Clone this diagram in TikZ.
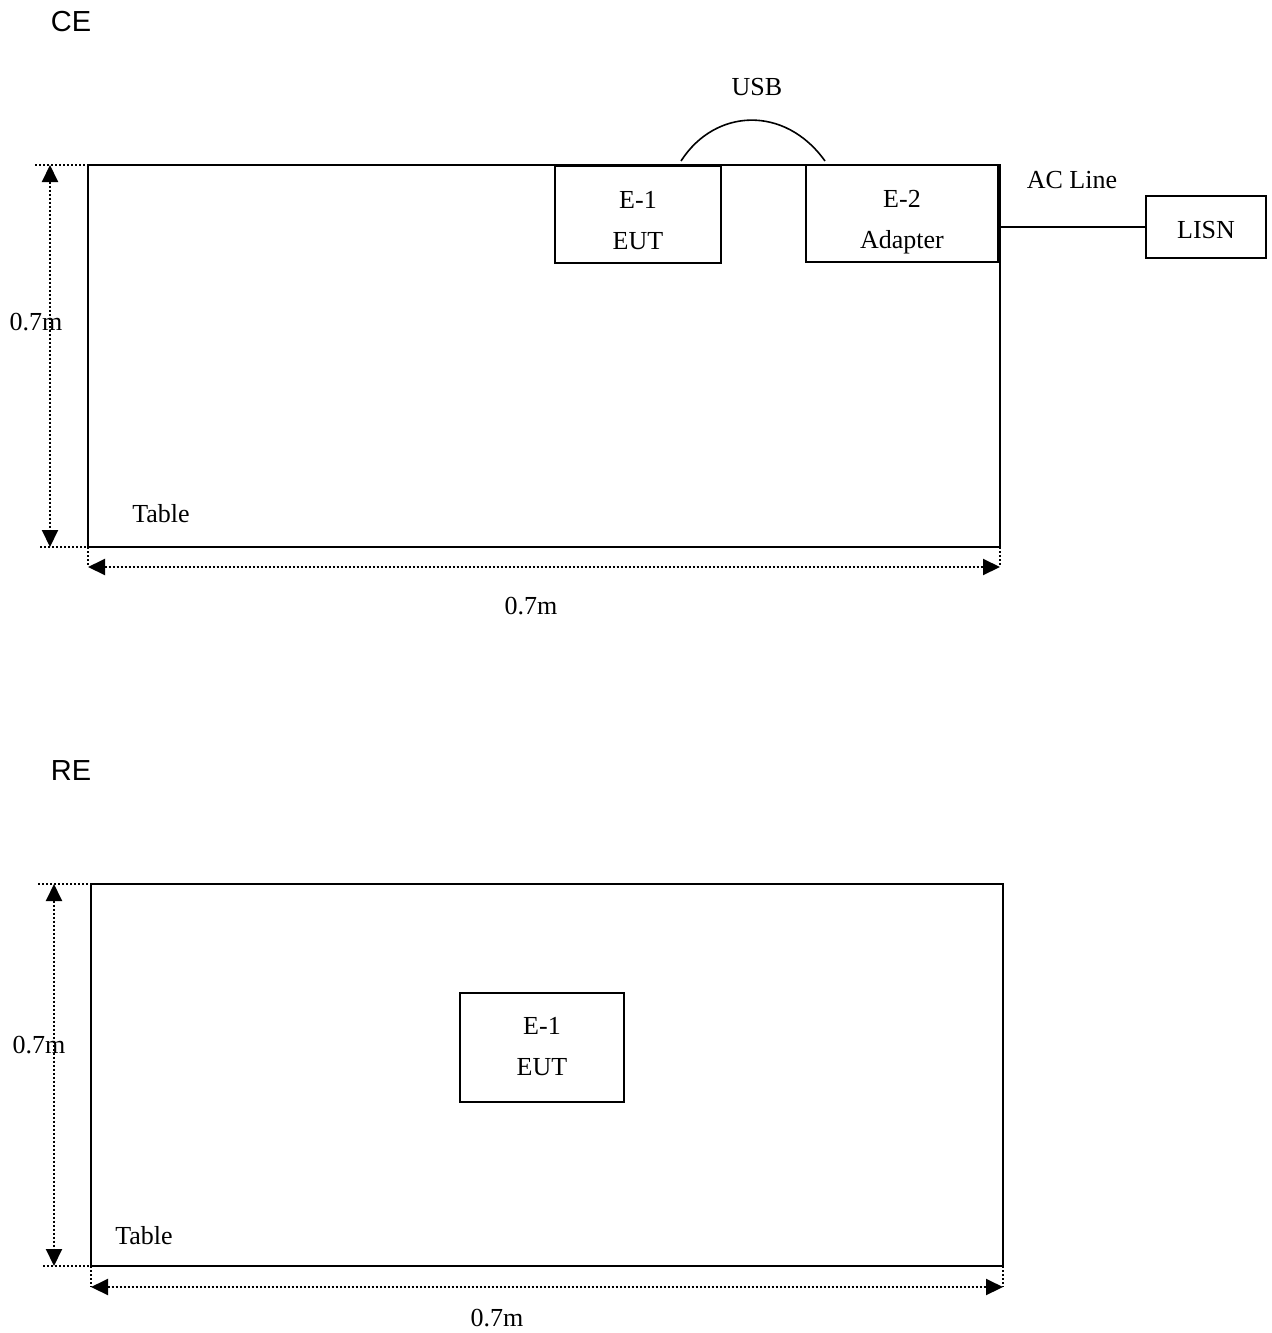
\documentclass[tikz,border=0pt]{standalone}
\usepackage{fontspec}
\setmainfont{Liberation Serif}
\newfontfamily\lsans{Liberation Sans}
\usetikzlibrary{arrows.meta}
\begin{document}
\begin{tikzpicture}[x=0.5pt,y=-0.5pt,
  txt/.style={inner sep=0pt, font=\fontsize{13}{20.5}\selectfont, align=center},
  ttl/.style={inner sep=0pt, font=\lsans\fontsize{14.5}{17}\selectfont},
  tbl/.style={draw, line width=1pt, inner sep=0pt},
  box/.style={draw, line width=0.8pt, inner sep=0pt},
  dimline/.style={line width=1pt, dash pattern=on 1pt off 1pt},
  dimarrow/.style={dimline, {Triangle[length=8.5pt,width=8pt]}-{Triangle[length=8.5pt,width=8pt]}},
  wire/.style={line width=0.8pt}]
\useasboundingbox (0,0) rectangle (1271,1333);
% ---------------- CE ----------------
\node[ttl] (ce) at (71,22) {CE};
\node[tbl, minimum width=456pt, minimum height=191pt] (tableA) at (544,356) {};
\node[box, minimum width=83pt, minimum height=48.5pt] (eutA) at (638,214.5) {};
\node[txt] (eutAt) at ([yshift=-3pt]eutA.center) {E-1\\EUT};
\node[box, minimum width=96pt, minimum height=48.5pt] (adapter) at (902,213.5) {};
\node[txt] (adaptert) at ([yshift=-4.5pt]adapter.center) {E-2\\Adapter};
\node[box, minimum width=60pt, minimum height=31pt] (lisn) at (1206,227) {};
\node[txt] (lisnt) at ([yshift=-1.5pt]lisn.center) {LISN};
\node[txt] (usb) at (757,87) {USB};
\node[txt] (acline) at (1072,180) {AC Line};
\node[txt] (tabA) at (161,514) {Table};
\coordinate (usbA) at (681,161);
\coordinate (usbB) at (825,161);
\draw[wire] (usbA) .. controls (715,108) and (785,105) .. (usbB);
\draw[wire] (lisn.west) -- (lisn.west -| tableA.east);
% dimensions
\coordinate (aT1) at (35,165); \coordinate (aT2) at (105,165);
\coordinate (aB1) at (40,547); \coordinate (aB2) at (110,547);
\draw[dimline] (aT1) -- (aT2);
\draw[dimline] (aB1) -- (aB2);
\coordinate (aV1) at (50,165); \coordinate (aV2) at (50,547);
\draw[dimarrow] (aV1) -- (aV2);
\coordinate (aL1) at (88,547); \coordinate (aL2) at (88,567);
\coordinate (aR1) at (1000,547); \coordinate (aR2) at (1000,567);
\draw[dimline] (aL1) -- (aL2);
\draw[dimline] (aR1) -- (aR2);
\draw[dimarrow] (aL2) -- (aR2);
\node[txt] (dimAv) at (36,322) {0.7m};
\node[txt] (dimAh) at (531,606) {0.7m};
% ---------------- RE ----------------
\node[ttl] (re) at (71,771) {RE};
\node[tbl, minimum width=456pt, minimum height=191pt] (tableB) at (547,1075) {};
\node[box, minimum width=82pt, minimum height=54.5pt] (eutB) at (542,1047.5) {};
\node[txt] (eutBt) at ([yshift=0.5pt]eutB.center) {E-1\\EUT};
\node[txt] (tabB) at (144,1236) {Table};
\coordinate (bT1) at (38,884); \coordinate (bT2) at (108,884);
\coordinate (bB1) at (43,1266); \coordinate (bB2) at (113,1266);
\draw[dimline] (bT1) -- (bT2);
\draw[dimline] (bB1) -- (bB2);
\coordinate (bV1) at (54,884); \coordinate (bV2) at (54,1266);
\draw[dimarrow] (bV1) -- (bV2);
\coordinate (bL1) at (91,1266); \coordinate (bL2) at (91,1287);
\coordinate (bR1) at (1003,1266); \coordinate (bR2) at (1003,1287);
\draw[dimline] (bL1) -- (bL2);
\draw[dimline] (bR1) -- (bR2);
\draw[dimarrow] (bL2) -- (bR2);
\node[txt] (dimBv) at (39,1045) {0.7m};
\node[txt] (dimBh) at (497,1318) {0.7m};
\end{tikzpicture}
\end{document}
